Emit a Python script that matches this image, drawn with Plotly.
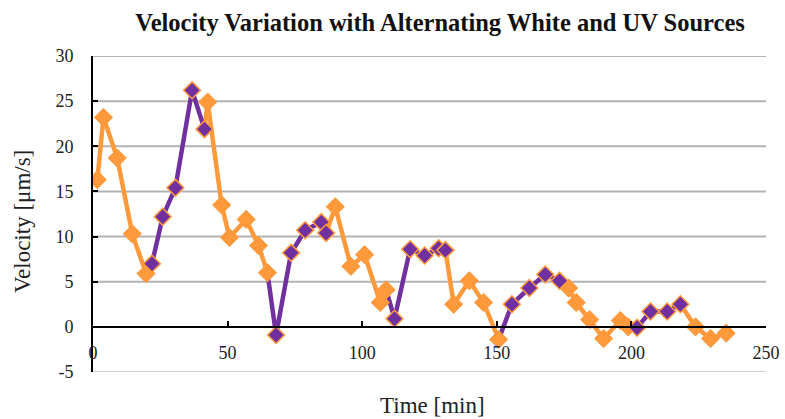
import plotly.graph_objects as go

# Time stamps [min] and measured velocity [µm/s]
time_min = [1.6, 3.9, 9.0, 14.6, 19.7,
            21.9, 25.9, 30.6, 36.8, 41.4,
            42.6, 47.8, 50.7, 56.9, 61.5, 64.8,
            68.0, 73.6, 78.8, 84.8, 86.6,
            90.0, 95.8, 100.9, 106.7, 108.9,
            112.0, 117.8, 123.2, 128.4, 130.9,
            134.0, 139.8, 145.1, 150.7,
            155.6, 162.1, 168.0, 173.3,
            176.7, 179.5, 184.5, 189.7, 195.9, 198.8,
            202.1, 207.1, 213.3, 218.2,
            223.8, 229.4, 235.2]
velocity = [16.3, 23.2, 18.7, 10.3, 5.9,
            7.0, 12.2, 15.4, 26.2, 21.9,
            24.9, 13.5, 9.9, 11.9, 9.0, 6.0,
            -0.9, 8.2, 10.7, 11.6, 10.4,
            13.3, 6.7, 8.0, 2.7, 4.1,
            0.9, 8.6, 7.9, 8.7, 8.5,
            2.5, 5.1, 2.7, -1.4,
            2.5, 4.3, 5.8, 5.1,
            4.3, 2.7, 0.8, -1.3, 0.7, 0.0,
            -0.1, 1.7, 1.7, 2.5,
            0.0, -1.3, -0.7]
# Light source active for each sample
source = (["White"] * 5 + ["UV"] * 5 + ["White"] * 6 + ["UV"] * 5 +
          ["White"] * 5 + ["UV"] * 5 + ["White"] * 4 + ["UV"] * 4 +
          ["White"] * 6 + ["UV"] * 4 + ["White"] * 3)

x_ticks = [0, 50, 100, 150, 200, 250]
y_ticks = [-5, 0, 5, 10, 15, 20, 25, 30]
y_tick_text = ["-5", "0", "5", "10", "15", "20", "25", "30"]
grid_levels = [5, 10, 15, 20, 25, 30]

ORANGE = "#FF9A3C"
PURPLE = "#7030A0"
FONT = "Liberation Serif"

# Split the line into pieces coloured by the source of the point they lead to
seg = {"White": ([], []), "UV": ([], [])}
for i in range(len(time_min)):
    s = source[i]
    xs, ys = seg[s]
    if i == 0:
        xs.append(time_min[0])
        ys.append(velocity[0])
        continue
    if source[i - 1] != s:
        if xs:
            xs.append(None)
            ys.append(None)
        xs.append(time_min[i - 1])
        ys.append(velocity[i - 1])
    xs.append(time_min[i])
    ys.append(velocity[i])

fig = go.Figure()
fig.add_trace(go.Scatter(x=seg["White"][0], y=seg["White"][1], mode="lines",
                         line=dict(color=ORANGE, width=4.5), connectgaps=False,
                         showlegend=False, hoverinfo="skip"))
fig.add_trace(go.Scatter(x=seg["UV"][0], y=seg["UV"][1], mode="lines",
                         line=dict(color=PURPLE, width=4.5), connectgaps=False,
                         showlegend=False, hoverinfo="skip"))

wx = [t for t, s in zip(time_min, source) if s == "White"]
wy = [v for v, s in zip(velocity, source) if s == "White"]
ux = [t for t, s in zip(time_min, source) if s == "UV"]
uy = [v for v, s in zip(velocity, source) if s == "UV"]

fig.add_trace(go.Scatter(x=wx, y=wy, mode="markers", name="White",
                         marker=dict(symbol="diamond", size=14, color=ORANGE,
                                     line=dict(color=ORANGE, width=1)),
                         showlegend=False))
fig.add_trace(go.Scatter(x=ux, y=uy, mode="markers", name="UV",
                         marker=dict(symbol="diamond", size=13, color=PURPLE,
                                     line=dict(color=ORANGE, width=1.5)),
                         showlegend=False))

# Horizontal grid; the lowest line is a touch lighter
shapes = [dict(type="line", xref="paper", x0=0, x1=1, yref="y", y0=g, y1=g,
               line=dict(color="#B3B3B3", width=2), layer="below")
          for g in grid_levels]
shapes.append(dict(type="line", xref="paper", x0=0, x1=1, yref="y", y0=-5, y1=-5,
                   line=dict(color="#CFCFCF", width=2), layer="below"))

fig.update_layout(
    width=785, height=419,
    margin=dict(l=93, r=19, t=56, b=47),
    paper_bgcolor="white", plot_bgcolor="white",
    font=dict(family=FONT, color="#222222"),
    shapes=shapes,
    title=dict(text="<b>Velocity Variation with Alternating White and UV Sources</b>",
               font=dict(family=FONT, size=24.5, color="#111111"),
               xref="paper", x=(440 - 93) / 673, xanchor="center",
               yref="container", y=1 - 22 / 419, yanchor="middle"),
    xaxis=dict(range=[0, 250], tickvals=x_ticks, showgrid=False, zeroline=False,
               showline=True, linecolor="black", linewidth=2,
               ticks="inside", ticklen=5, tickwidth=2, tickcolor="black",
               anchor="free", position=5 / 35, automargin=False,
               ticklabelstandoff=10,
               tickfont=dict(family=FONT, size=18, color="#222222")),
    yaxis=dict(range=[-5, 30], tickvals=y_ticks, ticktext=y_tick_text,
               showgrid=False, zeroline=False, automargin=False,
               showline=True, linecolor="black", linewidth=2,
               ticks="inside", ticklen=5, tickwidth=2, tickcolor="black",
               ticklabelstandoff=14,
               tickfont=dict(family=FONT, size=18, color="#222222")),
    annotations=[
        dict(text="Time [min]", xref="paper", yref="paper",
             x=(432 - 93) / 673, y=(372 - 405) / 316,
             xanchor="center", yanchor="middle", showarrow=False,
             font=dict(family=FONT, size=23, color="#222222")),
        dict(text="Velocity [μm/s]", xref="paper", yref="paper",
             x=(22 - 93) / 673, y=(372 - 222) / 316, textangle=-90,
             xanchor="center", yanchor="middle", showarrow=False,
             font=dict(family=FONT, size=23, color="#222222")),
    ],
)

fig.write_html("out.html")
